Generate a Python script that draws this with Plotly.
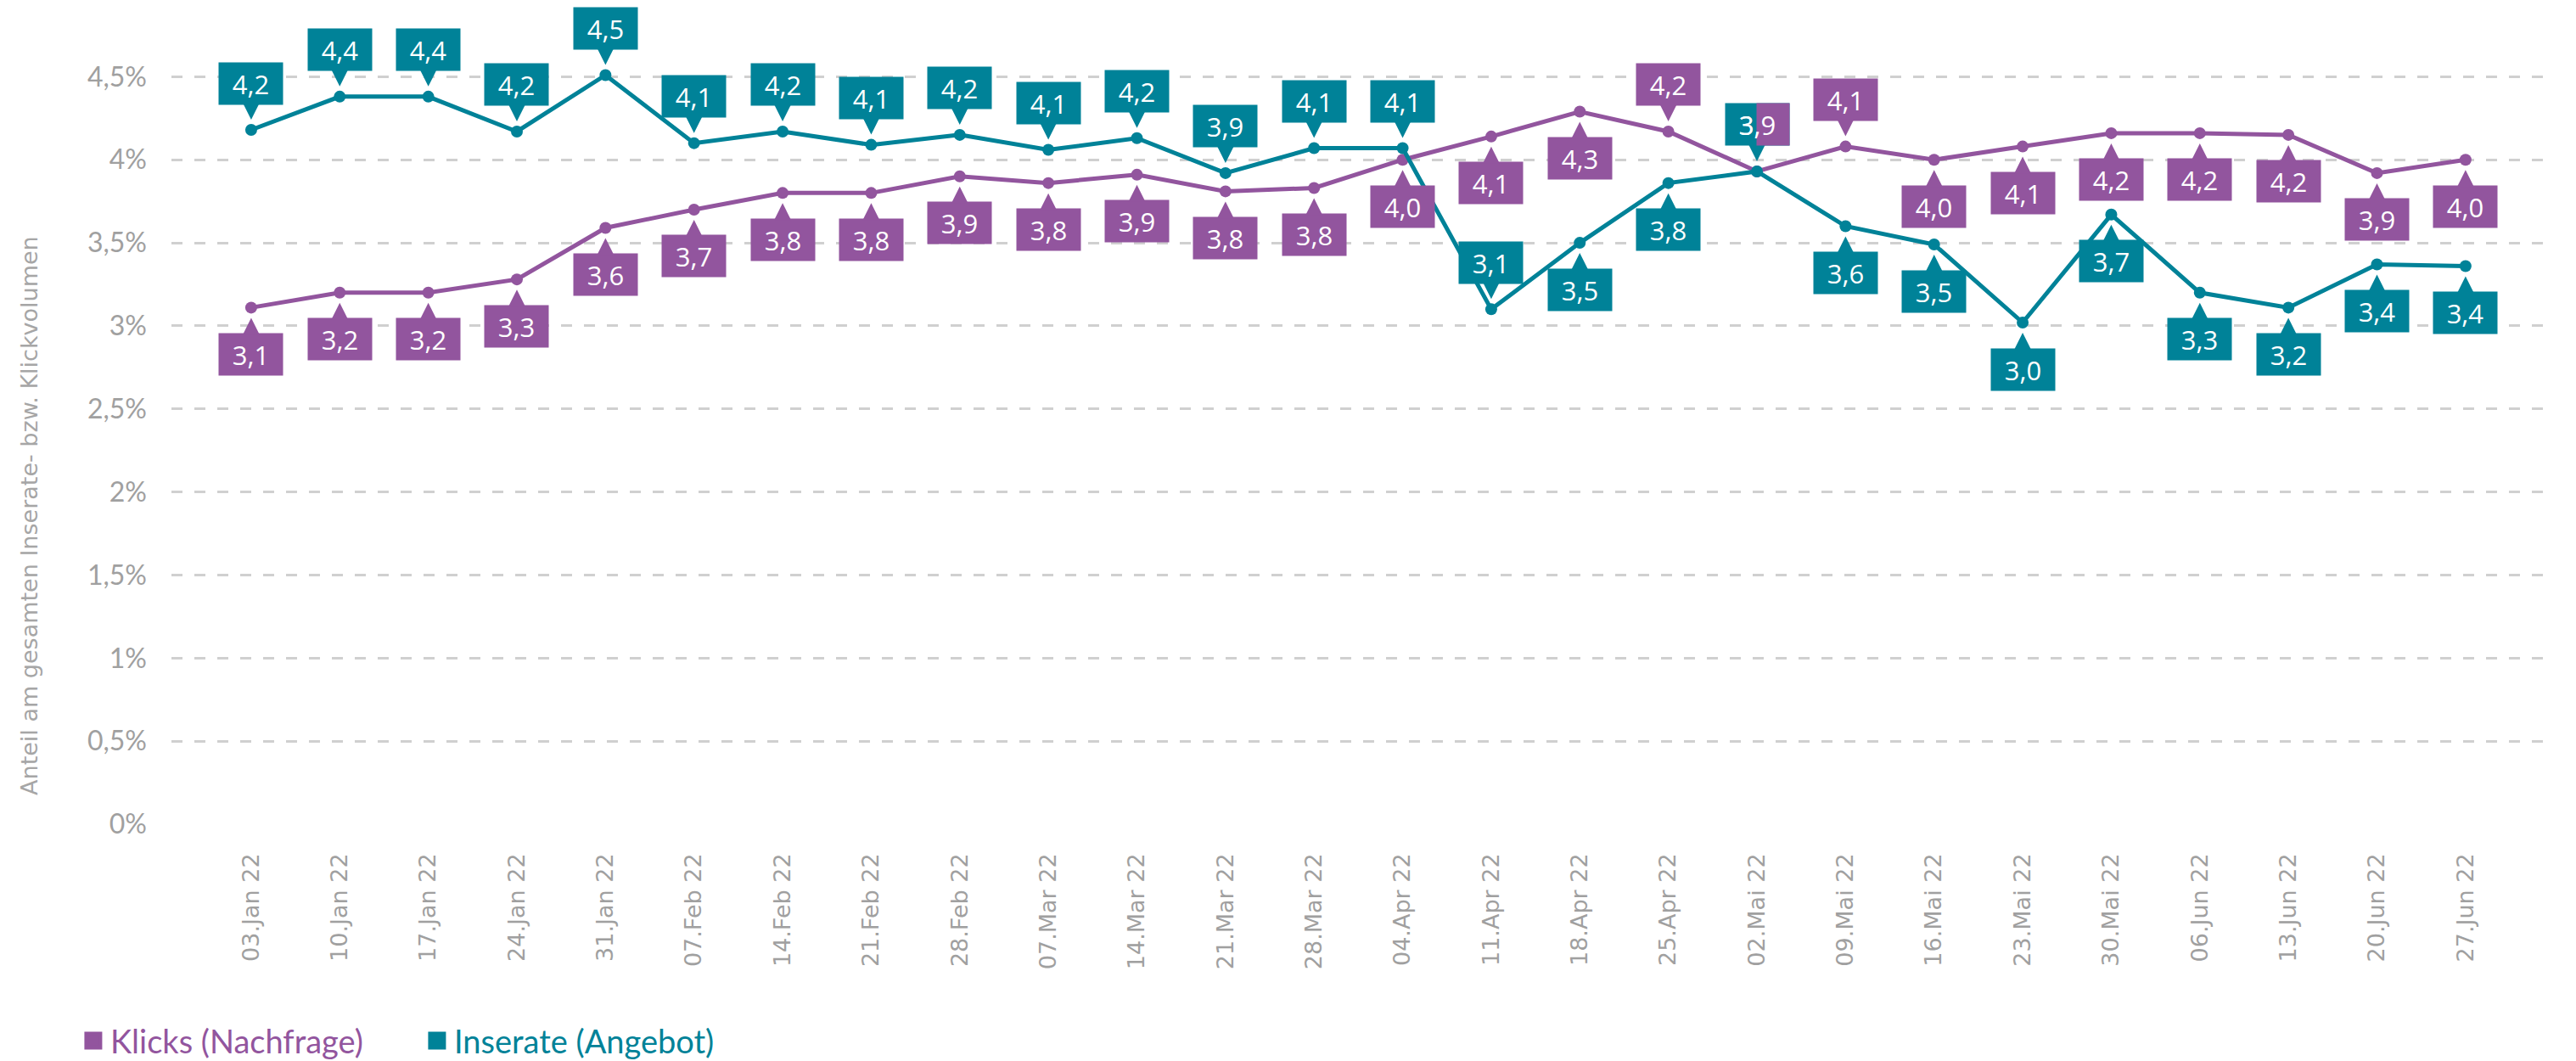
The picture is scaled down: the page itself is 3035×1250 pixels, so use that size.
import plotly.graph_objects as go

dates = ["03.Jan 22", "10.Jan 22", "17.Jan 22", "24.Jan 22", "31.Jan 22", "07.Feb 22",
         "14.Feb 22", "21.Feb 22", "28.Feb 22", "07.Mar 22", "14.Mar 22", "21.Mar 22",
         "28.Mar 22", "04.Apr 22", "11.Apr 22", "18.Apr 22", "25.Apr 22", "02.Mai 22",
         "09.Mai 22", "16.Mai 22", "23.Mai 22", "30.Mai 22", "06.Jun 22", "13.Jun 22",
         "20.Jun 22", "27.Jun 22"]

klicks = [3.11, 3.20, 3.20, 3.28, 3.59, 3.70, 3.80, 3.80, 3.90, 3.86, 3.91, 3.81, 3.83,
          4.00, 4.14, 4.29, 4.17, 3.93, 4.08, 4.00, 4.08, 4.16, 4.16, 4.15, 3.92, 4.00]
klicks_labels = ["3,1", "3,2", "3,2", "3,3", "3,6", "3,7", "3,8", "3,8", "3,9", "3,8", "3,9",
                 "3,8", "3,8", "4,0", "4,1", "4,3", "4,2", "3,9", "4,1", "4,0", "4,1", "4,2",
                 "4,2", "4,2", "3,9", "4,0"]
klicks_pos = ["below"] * 16 + ["above"] * 3 + ["below"] * 7

inserate = [4.18, 4.38, 4.38, 4.17, 4.51, 4.10, 4.17, 4.09, 4.15, 4.06, 4.13, 3.92, 4.07,
            4.07, 3.10, 3.50, 3.86, 3.93, 3.60, 3.49, 3.02, 3.67, 3.20, 3.11, 3.37, 3.36]
inserate_labels = ["4,2", "4,4", "4,4", "4,2", "4,5", "4,1", "4,2", "4,1", "4,2", "4,1", "4,2",
                   "3,9", "4,1", "4,1", "3,1", "3,5", "3,8", "3,9", "3,6", "3,5", "3,0", "3,7",
                   "3,3", "3,2", "3,4", "3,4"]
inserate_pos = ["above"] * 15 + ["below", "below", "above"] + ["below"] * 8

ytick_vals = [0, 0.5, 1, 1.5, 2, 2.5, 3, 3.5, 4, 4.5]
ytick_text = ["0%", "0,5%", "1%", "1,5%", "2%", "2,5%", "3%", "3,5%", "4%", "4,5%"]

PURPLE = "#92559E"
TEAL = "#008298"
BOX_FONT = "Open Sans"
LEG_FONT = "Lato"
BOX_SIZE = 31

fig = go.Figure()

series = [
    ("Klicks (Nachfrage)", klicks, klicks_labels, klicks_pos, PURPLE),
    ("Inserate (Angebot)", inserate, inserate_labels, inserate_pos, TEAL),
]

for name, vals, labs, pos, col in series:
    fig.add_trace(go.Scatter(
        x=dates, y=vals, mode="lines+markers", name=name, showlegend=False,
        line=dict(color=col, width=5),
        marker=dict(color=col, size=14),
        hoverinfo="skip",
    ))

for name, vals, labs, pos, col in series:
    fig.add_trace(go.Scatter(
        x=[None], y=[None], mode="markers",
        name="<span style='color:%s'>%s</span>" % (col, name),
        marker=dict(color=col, symbol="square", size=16, line=dict(color=col, width=5)),
    ))

OFF = 55
annotations = []

def box(x, y, text, col, where):
    return dict(
        x=x, y=y, xref="x", yref="y", text=text, showarrow=True,
        ax=0, ay=-OFF if where == "above" else OFF,
        arrowhead=2, arrowsize=2.0, arrowwidth=2, arrowcolor=col, standoff=12,
        bgcolor=col, font=dict(color="white", size=BOX_SIZE, family=BOX_FONT),
        width=69, height=43, borderpad=3, align="center", valign="middle",
    )

# Inserate labels first, then Klicks on top
for d, v, t, p in zip(dates, inserate, inserate_labels, inserate_pos):
    annotations.append(box(d, v, t, TEAL, p))

overlap = [i for i in range(len(dates))
           if klicks_pos[i] == "above" and inserate_pos[i] == "above"]
for i, (d, v, t, p) in enumerate(zip(dates, klicks, klicks_labels, klicks_pos)):
    if i in overlap:
        # shared label: right half purple, text on top
        annotations.append(dict(
            x=d, y=inserate[i], xref="x", yref="y", text=" ", showarrow=False,
            yshift=OFF, xshift=19, bgcolor=PURPLE, width=32, height=43, borderpad=3,
            font=dict(color="white", size=BOX_SIZE, family=BOX_FONT)))
        annotations.append(dict(
            x=d, y=inserate[i], xref="x", yref="y", text=t, showarrow=False,
            yshift=OFF, width=69, height=43, borderpad=3,
            font=dict(color="white", size=BOX_SIZE, family=BOX_FONT)))
    else:
        annotations.append(box(d, v, t, PURPLE, p))

# y-axis title
annotations.append(dict(
    text="Anteil am gesamten Inserate- bzw. Klickvolumen",
    xref="paper", yref="paper", x=-0.0596, y=0.377, textangle=-90,
    showarrow=False, xanchor="center", yanchor="middle",
    font=dict(color="#a6a6a6", size=27, family="DejaVu Sans"),
))

fig.update_layout(
    width=3035, height=1250,
    margin=dict(l=194, r=39, t=0, b=281),
    paper_bgcolor="white", plot_bgcolor="white",
    annotations=annotations,
    showlegend=True,
    legend=dict(orientation="h", x=-0.04, y=-0.265, xanchor="left", yanchor="middle",
                font=dict(size=38, family=LEG_FONT), entrywidth=360, entrywidthmode="pixels",
                bgcolor="rgba(0,0,0,0)"),
    xaxis=dict(
        type="category", range=[-0.90, 25.95], showgrid=False, zeroline=False, showline=False,
        tickangle=-90, ticklabelstandoff=28,
        tickfont=dict(color="#a0a0a0", size=27, family="DejaVu Sans"),
    ),
    yaxis=dict(
        range=[0, 4.921], tickvals=ytick_vals, ticktext=ytick_text,
        showgrid=True, gridcolor="#d0d0d0", gridwidth=3, griddash="13px,14px",
        zeroline=False, showline=False, ticklabelstandoff=28,
        tickfont=dict(color="#a0a0a0", size=32, family=LEG_FONT),
    ),
)

fig.write_html("out.html")
